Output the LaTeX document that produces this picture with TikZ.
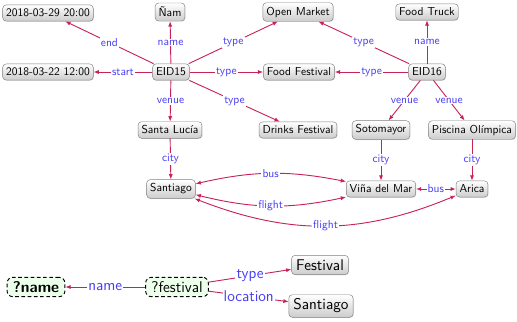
\documentclass[tikz,border=0pt]{standalone}
\usepackage{tikz}
\usetikzlibrary{arrows.meta, shadows}

\definecolor{edgered}{RGB}{200,35,85}
\definecolor{lblblue}{RGB}{70,60,245}

\begin{document}
\begin{tikzpicture}[
    x=0.87pt, y=0.87pt,
    font=\sffamily,
    >={Latex[length=4.6pt,width=3.6pt]},
    iri/.style={rectangle, rounded corners=3pt, draw=black!50,
                top color=white, bottom color=black!20,
                inner xsep=3pt, inner ysep=3.5pt,
                drop shadow={opacity=0.2, shadow xshift=0.6pt, shadow yshift=-0.6pt}},
    bigiri/.style={iri, font=\sffamily\fontsize{13.5}{16}\selectfont,
                   inner xsep=4pt, inner ysep=3.6pt},
    var/.style={rectangle, rounded corners=5pt, draw=black, thick,
                dash pattern=on 3.2pt off 2.2pt, fill=green!8,
                font=\sffamily\fontsize{13.5}{16}\selectfont,
                inner xsep=5pt, inner ysep=3.6pt},
    rel/.style={->, draw=edgered, thick},
    lbl/.style={fill=white, text=lblblue, inner sep=1pt, midway},
    biglbl/.style={lbl, font=\sffamily\fontsize{13.5}{16}\selectfont}
]
\useasboundingbox (0,0) rectangle (517,-321);

% data graph
\node[iri] (d29)   at (48,-13)   {2018-03-29 20:00};
\node[iri] (nam)   at (170,-12)  {Ñam};
\node[iri] (om)    at (298,-12)  {Open Market};
\node[iri] (ft)    at (427,-12)  {Food Truck};
\node[iri] (d22)   at (48,-72)   {2018-03-22 12:00};
\node[iri] (e15)   at (171,-72)  {EID15};
\node[iri] (ff)    at (299,-72)  {Food Festival};
\node[iri] (e16)   at (427,-72)  {EID16};
\node[iri] (sl)    at (170,-130) {Santa Lucía};
\node[iri] (df)    at (298,-130) {Drinks Festival};
\node[iri] (soto)  at (381,-130) {Sotomayor};
\node[iri] (pisc)  at (472,-130) {Piscina Olímpica};
\node[iri] (stgo)  at (171,-189) {Santiago};
\node[iri] (vina)  at (381,-189) {Viña del Mar};
\node[iri] (arica) at (472,-189) {Arica};

\draw[rel] (e15) -- node[lbl] {end}   (d29);
\draw[rel] (e15) -- node[lbl] {name}  (nam);
\draw[rel] (e15) -- node[lbl] {type}  (om);
\draw[rel] (e15) -- node[lbl] {start} (d22);
\draw[rel] (e15) -- node[lbl] {type}  (ff);
\draw[rel] (e15) -- node[lbl] {venue} (sl);
\draw[rel] (e15) -- node[lbl] {type}  (df);

\draw[rel] (e16) -- node[lbl] {type}  (om);
\draw[rel] (e16) -- node[lbl] {name}  (ft);
\draw[rel] (e16) -- node[lbl] {type}  (ff);
\draw[rel] (e16) -- node[lbl] {venue} (soto);
\draw[rel] (e16) -- node[lbl] {venue} (pisc);

\draw[rel] (sl)   -- node[lbl] {city} (stgo);
\draw[rel] (soto) -- node[lbl] {city} (vina);
\draw[rel] (pisc) -- node[lbl] {city} (arica);

\draw[rel, <->] (stgo) to[bend left=12]  node[lbl] {bus}    (vina);
\draw[rel, <->] (stgo) to[bend right=13] node[lbl] {flight} (vina);
\draw[rel, <->] (stgo) to[bend right=22] node[lbl] {flight} (arica);
\draw[rel, <->] (vina) -- node[lbl] {bus} (arica);

% query pattern
\node[var, font=\sffamily\fontsize{13.5}{16}\selectfont\bfseries] (vname) at (36,-287) {?name};
\node[var]    (vfest)  at (177,-287) {?festival};
\node[bigiri] (fest)   at (320,-265) {Festival};
\node[bigiri] (stgo2)  at (321,-306) {Santiago};

\draw[rel] (vfest) -- node[biglbl] {name}     (vname);
\draw[rel] (vfest) -- node[biglbl] {type}     (fest);
\draw[rel] (vfest) -- node[biglbl] {location} (stgo2);
\end{tikzpicture}
\end{document}
